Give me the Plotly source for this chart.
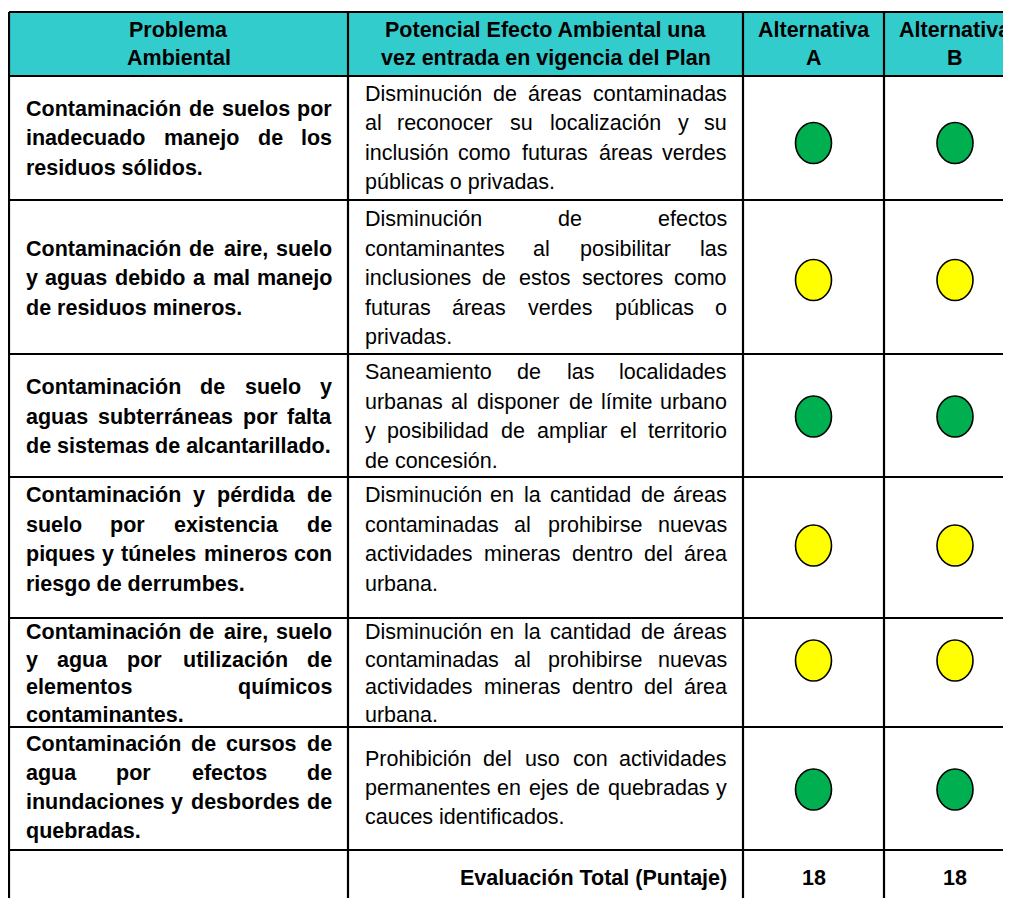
import unicodedata
import plotly.graph_objects as go

# ---------------- data ----------------
header_cols = [
    ["Problema", "Ambiental"],
    ["Potencial Efecto Ambiental una", "vez entrada en vigencia del Plan"],
    ["Alternativa", "A"],
    ["Alternativa", "B"],
]

problems = [
    ["Contaminación de suelos por", "inadecuado manejo de los", "residuos sólidos."],
    ["Contaminación de aire, suelo", "y aguas debido a mal manejo", "de residuos mineros."],
    ["Contaminación de suelo y", "aguas subterráneas por falta", "de sistemas de alcantarillado."],
    ["Contaminación y pérdida de", "suelo por existencia de", "piques y túneles mineros con", "riesgo de derrumbes."],
    ["Contaminación de aire, suelo", "y agua por utilización de", "elementos químicos", "contaminantes."],
    ["Contaminación de cursos de", "agua por efectos de", "inundaciones y desbordes de", "quebradas."],
]

effects = [
    ["Disminución de áreas contaminadas", "al reconocer su localización y su",
     "inclusión como futuras áreas verdes", "públicas o privadas."],
    ["Disminución de efectos", "contaminantes al posibilitar las",
     "inclusiones de estos sectores como", "futuras áreas verdes públicas o", "privadas."],
    ["Saneamiento de las localidades", "urbanas al disponer de límite urbano",
     "y posibilidad de ampliar el territorio", "de concesión."],
    ["Disminución en la cantidad de áreas", "contaminadas al prohibirse nuevas",
     "actividades mineras dentro del área", "urbana."],
    ["Disminución en la cantidad de áreas", "contaminadas al prohibirse nuevas",
     "actividades mineras dentro del área", "urbana."],
    ["Prohibición del uso con actividades", "permanentes en ejes de quebradas y",
     "cauces identificados."],
]

alt_a = ["verde", "amarillo", "verde", "amarillo", "amarillo", "verde"]
alt_b = ["verde", "amarillo", "verde", "amarillo", "amarillo", "verde"]

total_label = "Evaluación Total (Puntaje)"
totals = [18, 18]

# ---------------- layout / style ----------------
W, H = 1011, 898
BODY_MARGIN = 8  # page margin around the figure div
col_edges = [9, 348, 743, 884, 1026]
row_edges = [12, 76, 200, 354, 477, 618, 727, 850, 906]
text_shift = [-1, 0, 0, -9, 0, -2]        # vertical nudge of text blocks per body row
line_gap = [29.5, 29.5, 29.5, 29.5, 27.5, 29]  # line spacing per body row
mark_shift = [5, 3, 1, -2, -12, 1]        # vertical nudge of the evaluation marks per body row
TEAL = "#33CCCC"
COLORS = {"verde": "#00B050", "amarillo": "#FFFF00"}
FONT = "Liberation Sans, Arial, Helvetica, sans-serif"
FS = 21.5
PAD_L, PAD_R = 16, 15

REG = dict(zip("abcdefghijklmnopqrstuvwxyz",
               [556, 556, 500, 556, 556, 278, 556, 556, 222, 222, 500, 222, 833, 556, 556, 556, 556,
                333, 500, 278, 556, 500, 722, 500, 500, 500]))
REG.update(zip("ABCDEFGHIJKLMNOPQRSTUVWXYZ",
               [667, 667, 722, 722, 667, 611, 778, 722, 278, 500, 667, 556, 833, 722, 778, 667, 778,
                722, 667, 611, 722, 667, 944, 667, 667, 611]))
BOLD = dict(zip("abcdefghijklmnopqrstuvwxyz",
                [556, 611, 556, 611, 556, 333, 611, 611, 278, 278, 556, 278, 889, 611, 611, 611, 611,
                 389, 556, 333, 611, 556, 778, 556, 556, 500]))
BOLD.update(zip("ABCDEFGHIJKLMNOPQRSTUVWXYZ",
                [722, 722, 722, 722, 667, 611, 778, 722, 278, 556, 722, 611, 833, 722, 778, 667, 778,
                 722, 667, 611, 722, 667, 944, 667, 667, 611]))
for t in (REG, BOLD):
    t.update({" ": 278, ".": 278, ",": 278, "(": 333, ")": 333})
    t.update({d: 556 for d in "0123456789"})


def text_width(s, bold):
    tbl = BOLD if bold else REG
    tot = 0
    for ch in s:
        base = unicodedata.normalize("NFD", ch)[0]
        tot += tbl.get(base, 556)
    return tot * FS / 1000.0


annotations = []


def ann(x, y, text, anchor, bold):
    annotations.append(dict(
        x=x, y=y, xref="x", yref="y", text=("<b>%s</b>" % text) if bold else text,
        showarrow=False, xanchor=anchor, yanchor="middle", borderpad=0,
        font=dict(family=FONT, size=FS, color="black"),
    ))


def add_line(text, x0, x1, y, bold, justify):
    words = text.split()
    if not justify or len(words) == 1:
        ann(x0, y, text, "left", bold)
        return
    widths = [text_width(w, bold) for w in words]
    gap = (x1 - x0 - sum(widths)) / (len(words) - 1)
    x = x0
    for i, (w, wd) in enumerate(zip(words, widths)):
        if i == 0:
            ann(x0, y, w, "left", bold)
        elif i == len(words) - 1:
            ann(x1, y, w, "right", bold)
        else:
            ann(x + wd / 2, y, w, "center", bold)
        x += wd + gap


def add_paragraph(lines, col, row, bold, shift, lh):
    x0 = col_edges[col] + PAD_L
    x1 = col_edges[col + 1] - PAD_R
    yc = (row_edges[row] + row_edges[row + 1]) / 2 + 1 + shift
    n = len(lines)
    for k, line in enumerate(lines):
        y = yc + (k - (n - 1) / 2) * lh
        add_line(line, x0, x1, y, bold, justify=(k < n - 1))


# header
hy = (row_edges[0] + row_edges[1]) / 2
for c, lines in enumerate(header_cols):
    xc = (col_edges[c] + col_edges[c + 1]) / 2
    for k, line in enumerate(lines):
        ann(xc, hy + (k - 0.5) * 28, line, "center", True)

# body
for r in range(len(problems)):
    add_paragraph(problems[r], 0, r + 1, True, text_shift[r], line_gap[r])
    add_paragraph(effects[r], 1, r + 1, False, text_shift[r], line_gap[r])

# total row
ty = (row_edges[-2] + row_edges[-1]) / 2
ann(col_edges[2] - PAD_R, ty, total_label, "right", True)
for j, v in enumerate(totals):
    ann((col_edges[2 + j] + col_edges[3 + j]) / 2, ty, str(v), "center", True)

# shapes: header fill and grid lines
shapes = [dict(type="rect", xref="x", yref="y", x0=col_edges[0], x1=col_edges[-1],
               y0=row_edges[0], y1=row_edges[1], fillcolor=TEAL, line=dict(width=0), layer="below")]
LINE = dict(color="black", width=2.2)
for y in row_edges[:-1]:
    shapes.append(dict(type="line", xref="x", yref="y", x0=col_edges[0], x1=col_edges[-1],
                       y0=y, y1=y, line=LINE))
for x in col_edges[:-1]:
    shapes.append(dict(type="line", xref="x", yref="y", x0=x, x1=x,
                       y0=row_edges[0], y1=row_edges[-1], line=LINE))

# evaluation marks (ellipses) drawn in axis coordinates
RX, RY = 18, 20.5
for j, series in enumerate([alt_a, alt_b]):
    xc = (col_edges[2 + j] + col_edges[3 + j]) / 2
    for r, val in enumerate(series):
        yc = (row_edges[r + 1] + row_edges[r + 2]) / 2 + mark_shift[r]
        shapes.append(dict(type="circle", xref="x", yref="y", x0=xc - RX, x1=xc + RX,
                           y0=yc - RY, y1=yc + RY, fillcolor=COLORS[val],
                           line=dict(color="black", width=1.6)))

fig = go.Figure()
fig.update_layout(
    width=W - BODY_MARGIN, height=H - BODY_MARGIN, margin=dict(l=0, r=0, t=0, b=0),
    paper_bgcolor="white", plot_bgcolor="white",
    xaxis=dict(range=[BODY_MARGIN, W], visible=False, fixedrange=True),
    yaxis=dict(range=[H, BODY_MARGIN], visible=False, fixedrange=True),
    shapes=shapes, annotations=annotations, showlegend=False,
)
fig.write_html("out.html")
